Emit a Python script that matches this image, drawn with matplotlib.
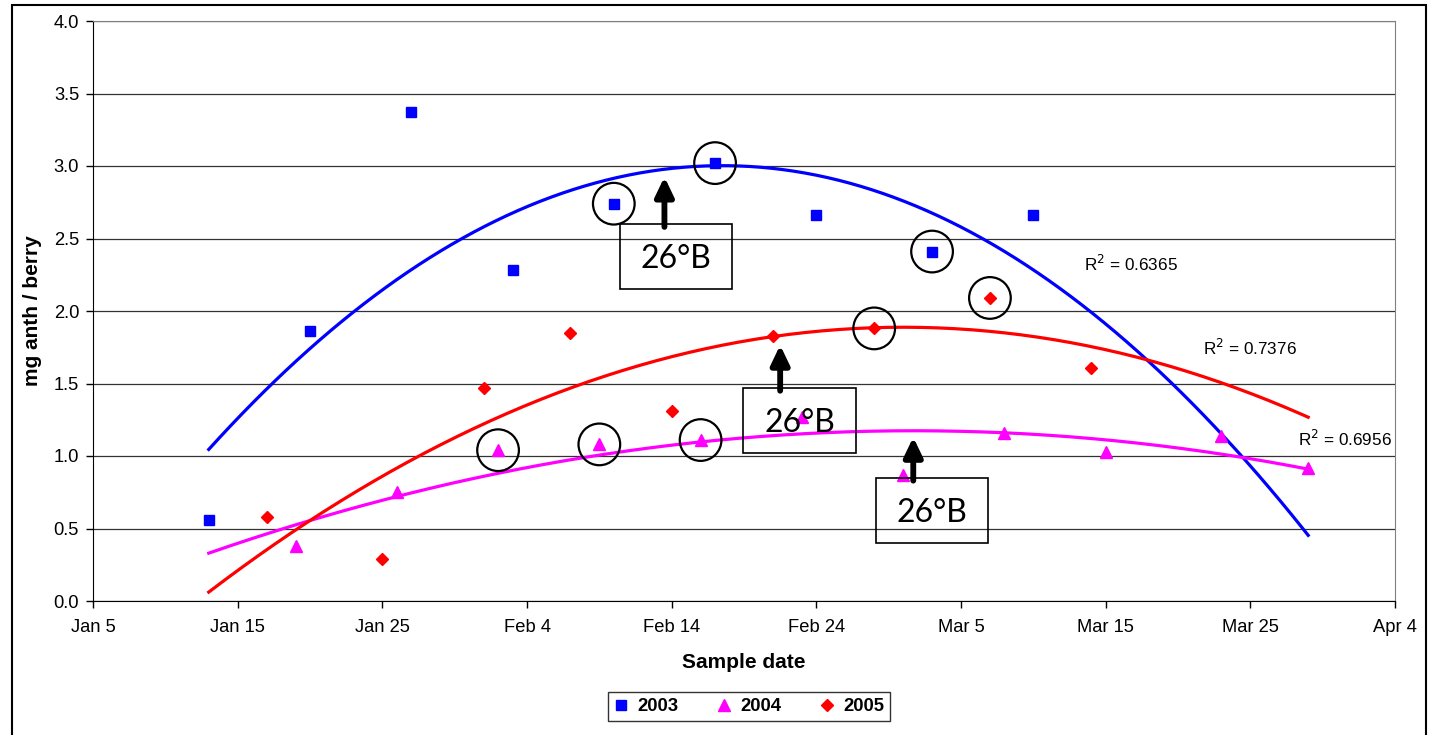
import matplotlib
matplotlib.use("Agg")
import matplotlib.pyplot as plt
from matplotlib.patches import Rectangle
from matplotlib.lines import Line2D
import numpy as np

plt.rcParams['font.family'] = ['Liberation Sans', 'DejaVu Sans']

# sample dates as day of year (leap year calendar, Jan 5 = 5)
tick_days = [5, 15, 25, 35, 45, 55, 65, 75, 85, 95]
tick_labels = ["Jan 5", "Jan 15", "Jan 25", "Feb 4", "Feb 14", "Feb 24",
               "Mar 5", "Mar 15", "Mar 25", "Apr 4"]

days_2003 = [13, 20, 27, 34, 41, 48, 55, 63, 70]
vals_2003 = [0.56, 1.86, 3.37, 2.28, 2.74, 3.02, 2.66, 2.41, 2.66]

days_2004 = [19, 26, 33, 40, 47, 54, 61, 68, 75, 83, 89]
vals_2004 = [0.38, 0.75, 1.04, 1.08, 1.11, 1.27, 0.87, 1.16, 1.03, 1.14, 0.92]

days_2005 = [17, 25, 32, 38, 45, 52, 59, 67, 74]
vals_2005 = [0.58, 0.29, 1.47, 1.85, 1.31, 1.83, 1.88, 2.09, 1.61]

# points circled in the original figure (indices into each series)
circled_2003 = [4, 5, 7]
circled_2004 = [2, 3, 4]
circled_2005 = [6, 7]

r2_labels = ["0.6365", "0.6956", "0.7376"]
trend_range = (13, 89)

W, H = 1432, 735
fig = plt.figure(figsize=(W / 100, H / 100), dpi=100)
ax = fig.add_axes([93 / W, 1 - 601 / H, (1395 - 93) / W, (601 - 21) / H])

series = [
    (days_2003, vals_2003, '#0000FF', 's', 7, '2003', circled_2003),
    (days_2004, vals_2004, '#FF00FF', '^', 8, '2004', circled_2004),
    (days_2005, vals_2005, '#FF0000', 'D', 6, '2005', circled_2005),
]

xs = np.linspace(trend_range[0], trend_range[1], 200)
handles = []
for days, vals, color, marker, ms, label, circ in series:
    ax.plot(days, vals, linestyle='none', marker=marker, ms=ms, color=color, zorder=4)
    # 2nd order polynomial trendline (as in Excel)
    coef = np.polyfit(days, vals, 2)
    ax.plot(xs, np.polyval(coef, xs), color=color, lw=2.3, zorder=3)
    ax.scatter([days[i] for i in circ], [vals[i] for i in circ], s=900,
               facecolors='none', edgecolors='black', linewidths=1.6, zorder=5)
    handles.append(Line2D([], [], linestyle='none', marker=marker, ms=ms,
                          color=color, label=label))

# R squared labels
ax.text(73.5, 2.325, r"R$^2$ = " + r2_labels[0], fontsize=12.3, va='center', ha='left')
ax.text(81.7, 1.745, r"R$^2$ = " + r2_labels[2], fontsize=12.3, va='center', ha='left')
ax.text(88.3, 1.12, r"R$^2$ = " + r2_labels[1], fontsize=12.3, va='center', ha='left')

# 26°B boxes with arrows
boxes = [
    (41.4, 2.15, 44.5, 2.925),
    (49.95, 1.02, 52.5, 1.765),
    (59.1, 0.40, 61.7, 1.13),
]
for bx, by, axx, tip in boxes:
    ax.add_patch(Rectangle((bx, by), 7.8, 0.45, fill=False, ec='black', lw=1.2, zorder=6))
    ax.text(bx + 3.9, by + 0.21, "26°B", fontsize=23, family=['Lato', 'DejaVu Sans'],
            ha='center', va='center', zorder=6)
    ax.annotate('', xy=(axx, tip), xytext=(axx, by + 0.45 - 0.02),
                arrowprops=dict(arrowstyle='-|>,head_length=1.15,head_width=0.55',
                                lw=4.2, color='black', shrinkA=0, shrinkB=0),
                zorder=6)

ax.set_xlim(5, 95)
ax.set_ylim(0, 4.0)
ax.set_xticks(tick_days)
ax.set_xticklabels(tick_labels)
ax.set_yticks(np.arange(0, 4.01, 0.5))
ax.set_yticklabels([f"{v:.1f}" for v in np.arange(0, 4.01, 0.5)])
ax.tick_params(axis='both', direction='out', length=5, width=1, labelsize=13.2)
ax.tick_params(axis='x', pad=8)
ax.tick_params(axis='y', pad=5)
ax.grid(axis='y', color='0.2', lw=0.9)
ax.set_axisbelow(True)
for side in ['top', 'right']:
    ax.spines[side].set_color('#808080')
for side in ['left', 'bottom']:
    ax.spines[side].set_color('black')

fig.text(33 / W, 1 - 311 / H, "mg anth / berry", rotation=90, fontsize=15,
         fontweight='bold', ha='center', va='center')
fig.text(744 / W, 1 - 662 / H, "Sample date", fontsize=15, fontweight='bold',
         ha='center', va='center')

leg = fig.legend(handles=handles, loc='center', bbox_to_anchor=(749 / W, 1 - 706.5 / H),
                 ncol=3, frameon=True, fancybox=False, edgecolor='black',
                 prop={'weight': 'bold', 'size': 13.3}, handlelength=0.8,
                 handletextpad=0.45, columnspacing=2.1, borderpad=0.32,
                 borderaxespad=0)
leg.get_frame().set_linewidth(1.0)

# outer chart border
fig.add_artist(Rectangle((12 / W, -0.1), (1426 - 12) / W, 1.1 - 5 / H,
                         transform=fig.transFigure, fill=False, ec='black', lw=1.5))

fig.savefig("out.png", dpi=100)
